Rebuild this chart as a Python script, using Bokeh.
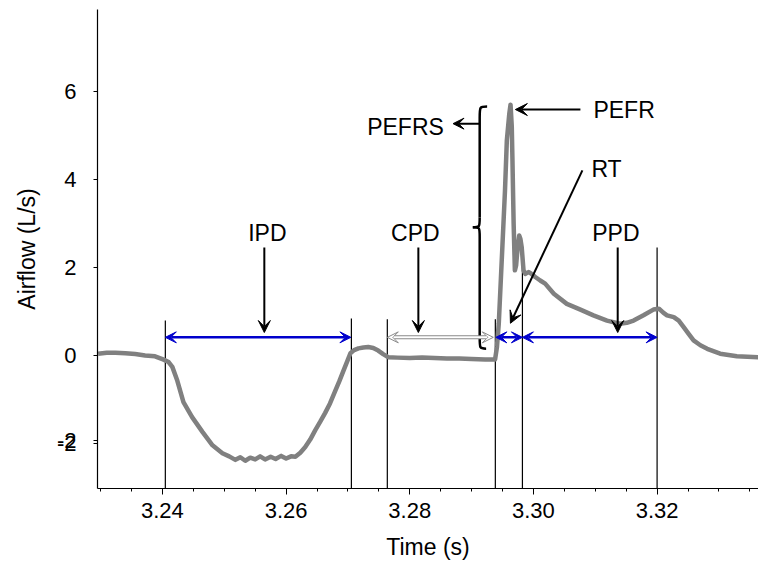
from bokeh.plotting import figure
from bokeh.models import (Range1d, SingleIntervalTicker, FixedTicker, PrintfTickFormatter,
                          Arrow, VeeHead, Label)
from bokeh.embed import file_html
from bokeh.resources import INLINE

# Airflow trace of a single cough (time in s, flow in L/s)
time_s = [3.2296, 3.2310, 3.2324, 3.2340, 3.2356, 3.2372, 3.2388, 3.2401, 3.2410, 3.2416,
          3.2424, 3.2434, 3.2448, 3.2465, 3.2481, 3.2497, 3.2508, 3.2518, 3.2526, 3.2534,
          3.2542, 3.2550, 3.2558, 3.2566, 3.2575, 3.2583, 3.2592, 3.2600, 3.2608, 3.2615,
          3.2623, 3.2631, 3.2639, 3.2647, 3.2655, 3.2663, 3.2671, 3.2680, 3.2686, 3.2693,
          3.2699, 3.2704, 3.2710, 3.2717, 3.2725, 3.2733, 3.2741, 3.2749, 3.2757, 3.2765,
          3.2780, 3.2800, 3.2820, 3.2840, 3.2860, 3.2880, 3.2900, 3.2922, 3.2938, 3.2941,
          3.2944, 3.2949, 3.2954, 3.2957, 3.2961, 3.2963, 3.2965, 3.2966, 3.2968, 3.2970,
          3.2972, 3.2974, 3.2977, 3.2979, 3.2981, 3.2984, 3.2987, 3.2992, 3.2995, 3.3003,
          3.3011, 3.3019, 3.3033, 3.3054, 3.3076, 3.3097, 3.3119, 3.3140, 3.3151, 3.3162,
          3.3178, 3.3194, 3.3203, 3.3210, 3.3216, 3.3227, 3.3235, 3.3243, 3.3251, 3.3259,
          3.3270, 3.3281, 3.3302, 3.3329, 3.3364]
flow_ls = [0.05, 0.07, 0.07, 0.06, 0.04, 0.01, -0.01, -0.08, -0.14, -0.25,
           -0.56, -1.05, -1.39, -1.73, -2.03, -2.21, -2.28, -2.36, -2.30, -2.38,
           -2.31, -2.35, -2.28, -2.35, -2.29, -2.34, -2.27, -2.33, -2.28, -2.29,
           -2.20, -2.07, -1.90, -1.69, -1.50, -1.30, -1.08, -0.78, -0.58, -0.33,
           -0.12, 0.06, 0.13, 0.17, 0.19, 0.20, 0.18, 0.12, 0.04, -0.03,
           -0.04, -0.05, -0.04, -0.05, -0.06, -0.06, -0.07, -0.08, -0.08, 0.20,
           0.74, 2.24, 3.75, 4.89, 5.50, 5.70, 5.20, 4.51, 3.00, 1.94,
           2.05, 2.39, 2.73, 2.65, 2.47, 1.94, 1.86, 1.90, 1.88, 1.79,
           1.71, 1.64, 1.41, 1.18, 1.05, 0.92, 0.80, 0.73, 0.75, 0.80,
           0.92, 1.05, 1.07, 0.98, 0.92, 0.88, 0.80, 0.65, 0.50, 0.35,
           0.24, 0.16, 0.05, -0.01, -0.03]

# Phase boundaries (s) and the heights their marker lines reach (L/s)
boundary_t = [3.24047, 3.27056, 3.27637, 3.29384, 3.29822, 3.32000]
boundary_top = [0.80, 0.85, 0.83, 0.83, 2.46, 2.46]

# Phase spans drawn as double arrows: IPD, CPD, RT, PPD
span_start = [3.24047, 3.27637, 3.29392, 3.29822]
span_end = [3.27048, 3.29351, 3.29822, 3.32000]
span_y = 0.42

# Phase names with their pointer arrows
phase_names = ["IPD", "CPD", "PPD"]
phase_text_t = [3.25697, 3.28091, 3.31334]
phase_arrow_t = [3.25648, 3.28139, 3.31363]
text_y = 2.78
pointer_top = 2.46
pointer_tip = 0.53

# y ticks; the -2 label is printed twice, the second copy a hair higher
y_ticks = [-2, -1.92, 0, 2, 4, 6]
x_lo, x_hi = 3.2295, 3.3364
y_lo, y_hi = -3.01, 7.86

FONT = "Liberation Sans"
GREY = "#808080"
BLUE = "#0000cc"

p = figure(width=758, height=572, output_backend="svg", toolbar_location=None,
           x_range=Range1d(x_lo, x_hi), y_range=Range1d(y_lo, y_hi),
           min_border_left=97, min_border_right=0, min_border_top=9, min_border_bottom=84,
           x_axis_label="Time (s)", y_axis_label="Airflow (L/s)")
p.outline_line_color = None
p.grid.visible = False
p.background_fill_color = "white"
p.border_fill_color = "white"

xa = p.xaxis[0]
xa.ticker = SingleIntervalTicker(interval=0.02, num_minor_ticks=4)
xa.formatter = PrintfTickFormatter(format="%.2f")
xa.major_tick_in = 0
xa.major_tick_out = 6
xa.minor_tick_in = 0
xa.minor_tick_out = 3
xa.major_label_standoff = 8
xa.axis_label_standoff = 13

ya = p.yaxis[0]
ya.ticker = FixedTicker(ticks=y_ticks)
ya.formatter = PrintfTickFormatter(format="%.0f")
ya.major_tick_in = 0
ya.major_tick_out = 4
ya.minor_tick_line_color = None
ya.major_label_standoff = 17
ya.axis_label_standoff = 14

for ax in (xa, ya):
    ax.axis_line_color = "black"
    ax.axis_line_width = 1.2
    ax.major_tick_line_color = "black"
    ax.major_label_text_font = FONT
    ax.major_label_text_font_size = "22px"
    ax.major_label_text_color = "black"
    ax.axis_label_text_font = FONT
    ax.axis_label_text_font_size = "23px"
    ax.axis_label_text_font_style = "normal"
    ax.axis_label_text_color = "black"
xa.minor_tick_line_color = "black"

# boundary markers
p.segment(x0=boundary_t, y0=[y_lo] * len(boundary_t), x1=boundary_t, y1=boundary_top,
          line_color="black", line_width=1.2)

# airflow trace
p.line(time_s, flow_ls, line_color=GREY, line_width=4.5, line_join="round")

# blue span arrows (IPD, RT, PPD)
for i in (0, 2, 3):
    p.add_layout(Arrow(x_start=span_start[i], y_start=span_y, x_end=span_end[i], y_end=span_y,
                       line_color=BLUE, line_width=2.5,
                       start=VeeHead(size=11, fill_color=BLUE, line_color=BLUE, line_width=1),
                       end=VeeHead(size=11, fill_color=BLUE, line_color=BLUE, line_width=1)))

# hollow CPD arrow: grey outline with a white core
p.add_layout(Arrow(x_start=span_start[1], y_start=span_y, x_end=span_end[1], y_end=span_y,
                   line_color="#8a8a8a", line_width=4,
                   start=VeeHead(size=11, fill_color="white", line_color="#8a8a8a", line_width=1),
                   end=VeeHead(size=11, fill_color="white", line_color="#8a8a8a", line_width=1)))
p.add_layout(Arrow(x_start=span_start[1] + 0.0010, y_start=span_y,
                   x_end=span_end[1] - 0.0010, y_end=span_y,
                   line_color="white", line_width=2, start=None, end=None))

# phase names and their downward pointers
for name, tt, ta in zip(phase_names, phase_text_t, phase_arrow_t):
    p.add_layout(Label(x=tt, y=text_y, text=name, text_font=FONT, text_font_size="23px",
                       text_align="center", text_baseline="middle", text_color="black"))
    p.add_layout(Arrow(x_start=ta, y_start=pointer_top, x_end=ta, y_end=pointer_tip,
                       line_color="black", line_width=2,
                       end=VeeHead(size=12, fill_color="black", line_color="black")))

# curly brace around the expiratory rise (PEFRS)
brace_x, brace_cusp_x = 3.29131, 3.29020
p.bezier(x0=[3.29251, brace_x, brace_cusp_x, brace_x],
         y0=[5.658, 3.14, 2.921, 0.43],
         x1=[brace_x, brace_cusp_x, brace_x, 3.29235],
         y1=[5.40, 2.921, 2.70, 0.163],
         cx0=[brace_x, brace_x, brace_x, brace_x],
         cy0=[5.658, 2.921, 2.921, 0.163],
         cx1=[brace_x, brace_x, brace_x, brace_x],
         cy1=[5.658, 2.921, 2.921, 0.163],
         line_color="black", line_width=2.5)
p.segment(x0=[brace_x, brace_x], y0=[5.40, 2.70], x1=[brace_x, brace_x], y1=[3.14, 0.43],
          line_color="black", line_width=2.5)

p.add_layout(Arrow(x_start=brace_x, y_start=5.27, x_end=3.28700, y_end=5.27,
                   line_color="black", line_width=2,
                   end=VeeHead(size=11, fill_color="black", line_color="black")))
p.add_layout(Label(x=3.28551, y=5.19, text="PEFRS", text_font=FONT, text_font_size="23px",
                   text_align="right", text_baseline="middle", text_color="black"))

# PEFR pointer
p.add_layout(Arrow(x_start=3.30760, y_start=5.59, x_end=3.29708, y_end=5.59,
                   line_color="black", line_width=2,
                   end=VeeHead(size=12, fill_color="black", line_color="black")))
p.add_layout(Label(x=3.30970, y=5.59, text="PEFR", text_font=FONT, text_font_size="23px",
                   text_align="left", text_baseline="middle", text_color="black"))

# RT pointer
p.add_layout(Arrow(x_start=3.30792, y_start=4.21, x_end=3.29628, y_end=0.74,
                   line_color="black", line_width=2,
                   end=VeeHead(size=12, fill_color="black", line_color="black")))
p.add_layout(Label(x=3.30938, y=4.24, text="RT", text_font=FONT, text_font_size="23px",
                   text_align="left", text_baseline="middle", text_color="black"))

open("out.html", "w").write(file_html(p, INLINE))
